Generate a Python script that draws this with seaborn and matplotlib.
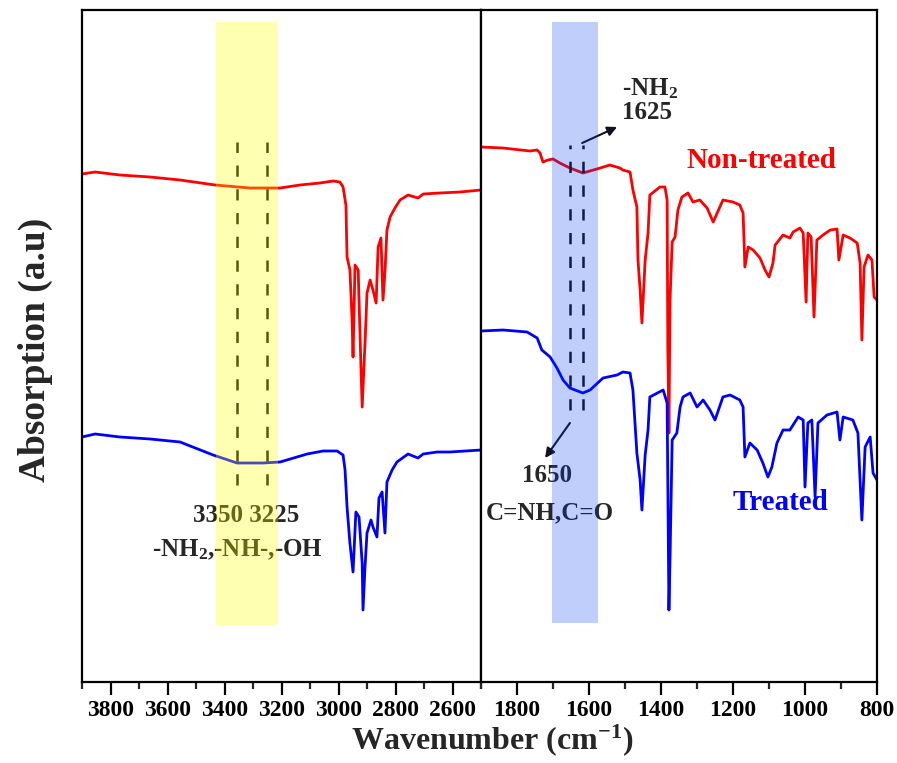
import numpy as np
import pandas as pd
import matplotlib
matplotlib.use("Agg")
import matplotlib.pyplot as plt
import seaborn as sns

# ---------------- data ----------------
# High-wavenumber window (3900-2500 cm-1)
hi_wn_nt = [3900, 3854, 3767, 3661, 3556, 3433, 3310, 3205, 3135, 3065, 3019, 2995, 2984,
            2974, 2970, 2960, 2953, 2949, 2942, 2931, 2924, 2917, 2907, 2900, 2889, 2879,
            2868, 2861, 2851, 2844, 2837, 2830, 2819, 2802, 2784, 2756, 2721, 2703, 2644,
            2574, 2500]
hi_ab_nt = [5.08, 5.10, 5.07, 5.05, 5.02, 4.97, 4.94, 4.94, 4.97, 4.99, 5.01, 5.00, 4.95,
            4.77, 4.25, 4.12, 3.67, 3.25, 4.17, 4.12, 3.42, 2.75, 3.39, 3.89, 4.02, 3.92,
            3.79, 4.35, 4.44, 3.82, 4.10, 4.52, 4.65, 4.74, 4.82, 4.87, 4.84, 4.88, 4.89,
            4.90, 4.92]

hi_wn_t = [3900, 3854, 3767, 3661, 3556, 3440, 3356, 3265, 3205, 3110, 3054, 3005, 2984,
           2977, 2970, 2960, 2949, 2939, 2928, 2917, 2914, 2907, 2900, 2886, 2879, 2865,
           2858, 2847, 2837, 2830, 2812, 2795, 2756, 2721, 2703, 2654, 2609, 2500]
hi_ab_t = [2.45, 2.48, 2.45, 2.43, 2.40, 2.27, 2.19, 2.19, 2.20, 2.28, 2.31, 2.31, 2.27,
           2.12, 1.75, 1.39, 1.10, 1.70, 1.65, 1.19, 0.72, 1.15, 1.49, 1.62, 1.55, 1.45,
           1.84, 1.90, 1.49, 2.00, 2.12, 2.20, 2.28, 2.24, 2.28, 2.30, 2.30, 2.32]

# Fingerprint window (1900-800 cm-1)
lo_wn_nt = [1900, 1839, 1764, 1744, 1736, 1728, 1714, 1700, 1681, 1653, 1617, 1578, 1542,
            1514, 1506, 1486, 1478, 1467, 1464, 1458, 1453, 1444, 1436, 1431, 1403, 1389,
            1383, 1381, 1378, 1375, 1369, 1361, 1353, 1342, 1325, 1311, 1292, 1272, 1255,
            1244, 1228, 1200, 1181, 1172, 1167, 1158, 1144, 1125, 1111, 1100, 1089, 1083,
            1061, 1042, 1033, 1014, 1005, 997, 992, 983, 975, 967, 950, 930, 911, 906, 894,
            875, 855, 847, 842, 836, 825, 814, 808, 800]
lo_ab_nt = [5.35, 5.34, 5.31, 5.32, 5.29, 5.20, 5.22, 5.23, 5.19, 5.14, 5.09, 5.13, 5.17,
            5.14, 5.12, 5.10, 4.92, 4.75, 4.22, 3.92, 3.59, 4.22, 4.49, 4.87, 4.95, 4.95,
            4.82, 3.32, 2.49, 3.82, 4.40, 4.45, 4.72, 4.85, 4.89, 4.80, 4.82, 4.74, 4.60,
            4.69, 4.82, 4.80, 4.77, 4.69, 4.15, 4.35, 4.32, 4.24, 4.12, 4.05, 4.19, 4.37,
            4.47, 4.44, 4.50, 4.54, 4.49, 3.80, 4.49, 4.45, 3.65, 4.42, 4.47, 4.52, 4.53, 4.22,
            4.47, 4.44, 4.39, 4.19, 3.42, 4.15, 4.27, 4.22, 3.85, 3.82]

lo_wn_t = [1900, 1839, 1772, 1744, 1731, 1708, 1689, 1672, 1653, 1617, 1597, 1561, 1522,
           1506, 1486, 1478, 1467, 1458, 1453, 1444, 1436, 1431, 1394, 1383, 1378, 1375,
           1369, 1356, 1347, 1339, 1319, 1300, 1283, 1264, 1250, 1228, 1208, 1181, 1172,
           1167, 1153, 1133, 1117, 1103, 1092, 1078, 1061, 1042, 1019, 1005, 1000, 992, 981,
           972, 964, 939, 911, 903, 894, 867, 853, 842, 833, 819, 811, 800]
lo_ab_t = [3.51, 3.52, 3.50, 3.44, 3.32, 3.25, 3.14, 3.02, 2.94, 2.89, 2.92, 3.04, 3.07,
           3.10, 3.09, 2.92, 2.29, 2.02, 1.72, 2.27, 2.52, 2.85, 2.92, 2.79, 0.72, 1.22,
           2.42, 2.49, 2.75, 2.85, 2.89, 2.75, 2.82, 2.72, 2.62, 2.85, 2.87, 2.82, 2.75,
           2.25, 2.39, 2.32, 2.19, 2.05, 2.15, 2.39, 2.52, 2.52, 2.65, 2.62, 1.95, 2.59, 2.62,
           1.85, 2.59, 2.67, 2.70, 2.42, 2.65, 2.62, 2.49, 1.62, 2.35, 2.45, 2.09, 2.02]

samples = ["Non-treated", "Treated"]
hi_ticks = [3800, 3600, 3400, 3200, 3000, 2800, 2600]
lo_ticks = [1800, 1600, 1400, 1200, 1000, 800]
hi_band = (3430, 3212)
lo_band = (1703, 1575)
hi_marks = [3356, 3251]
lo_marks = [1653, 1617]

# ---------------- styling ----------------
sns.set_theme(style="white")
plt.rcParams["font.family"] = ["Liberation Serif", "DejaVu Serif"]
plt.rcParams["font.weight"] = "bold"
plt.rcParams["mathtext.fontset"] = "custom"
plt.rcParams["mathtext.rm"] = "Liberation Serif:bold"
plt.rcParams["mathtext.bf"] = "Liberation Serif:bold"
plt.rcParams["mathtext.it"] = "Liberation Serif:bold"

palette = {"Non-treated": "#ff0000", "Treated": "#0000ff"}

df_hi = pd.concat([
    pd.DataFrame({"wn": hi_wn_nt, "ab": hi_ab_nt, "sample": samples[0]}),
    pd.DataFrame({"wn": hi_wn_t, "ab": hi_ab_t, "sample": samples[1]}),
])
df_lo = pd.concat([
    pd.DataFrame({"wn": lo_wn_nt, "ab": lo_ab_nt, "sample": samples[0]}),
    pd.DataFrame({"wn": lo_wn_t, "ab": lo_ab_t, "sample": samples[1]}),
])

W, H = 897, 763
fig = plt.figure(figsize=(W / 100, H / 100), dpi=100)
axL = fig.add_axes([82 / W, 1 - 682 / H, (481 - 82) / W, 672 / H])
axR = fig.add_axes([481 / W, 1 - 682 / H, (877 - 481) / W, 672 / H])

for ax, df in ((axL, df_hi), (axR, df_lo)):
    sns.lineplot(data=df, x="wn", y="ab", hue="sample", palette=palette,
                 estimator=None, sort=False, lw=2.0, legend=False, ax=ax)
    ax.set_ylim(0, 6.72)
    ax.set_yticks([])
    ax.set_xlabel("")
    ax.set_ylabel("")
    for s in ax.spines.values():
        s.set_linewidth(1.6)
        s.set_color("black")
        s.set_visible(True)
    ax.tick_params(axis="x", which="major", direction="out", length=9, width=1.6,
                   labelsize=17, pad=4, bottom=True, colors="black")
    ax.tick_params(axis="x", which="minor", direction="out", length=5, width=1.6,
                   bottom=True)

axL.set_xlim(3900, 2500)
axL.set_xticks(hi_ticks)
axL.set_xticks(np.arange(3900, 2499, -200), minor=True)
axR.set_xlim(1900, 800)
axR.set_xticks(lo_ticks)
axR.set_xticks(np.arange(1900, 799, -200), minor=True)
for ax in (axL, axR):
    ax.set_xticklabels([str(t) for t in ax.get_xticks()], fontweight="bold", fontsize=17)

# dashed marker lines
for x in hi_marks:
    axL.plot([x, x], [1.97, 5.40], color="#111111", lw=1.8, ls=(0, (4.5, 5)), zorder=3)
for x in lo_marks:
    axR.plot([x, x], [2.72, 5.37], color="#111111", lw=1.8, ls=(0, (4.5, 5)), zorder=3)

# annotations
fs = 18
axL.text(3324, 1.67, "3350 3225", ha="center", va="center", fontsize=fs, fontweight="bold", zorder=4)
axL.text(3356, 1.32, "-NH$_\\mathbf{2}$,-NH-,-OH", ha="center", va="center", fontsize=fs,
         fontweight="bold", zorder=4)
axR.text(1508, 5.93, "-NH$_\\mathbf{2}$", ha="left", va="center", fontsize=fs, fontweight="bold", zorder=4)
axR.text(1508, 5.69, "1625", ha="left", va="center", fontsize=fs, fontweight="bold", zorder=4)
axR.text(1717, 2.06, "1650", ha="center", va="center", fontsize=fs, fontweight="bold", zorder=4)
axR.text(1708, 1.69, "C=NH,C=O", ha="center", va="center", fontsize=fs, fontweight="bold", zorder=4)
axR.text(1122, 5.21, "Non-treated", ha="center", va="center", fontsize=21, fontweight="bold",
         color="#ff0000", zorder=4)
axR.text(1069, 1.79, "Treated", ha="center", va="center", fontsize=21, fontweight="bold",
         color="#0000ff", zorder=4)
axR.annotate("", xy=(1522, 5.55), xytext=(1619, 5.39),
             arrowprops=dict(arrowstyle="-|>", color="#111122", lw=1.5, mutation_scale=14,
                             shrinkA=0, shrinkB=0), zorder=4)
axR.annotate("", xy=(1722, 2.24), xytext=(1653, 2.59),
             arrowprops=dict(arrowstyle="-|>", color="#111122", lw=1.5, mutation_scale=14,
                             shrinkA=0, shrinkB=0), zorder=4)

# translucent highlight bands drawn over everything
axL.fill_between(list(hi_band), 0.57, 6.60, color="#ffff00", alpha=0.30, lw=0, zorder=5)
axR.fill_between(list(lo_band), 0.59, 6.60, color="#003cf0", alpha=0.25, lw=0, zorder=5)

# axis titles
fig.text(35 / W, 1 - 350 / H, "Absorption (a.u)", rotation=90, ha="center", va="center",
         fontsize=27, fontweight="bold")
fig.text(492 / W, 1 - 740 / H, "Wavenumber (cm$^{\\mathbf{-1}}$)", ha="center", va="center",
         fontsize=23, fontweight="bold")

fig.savefig("out.png", dpi=100)
